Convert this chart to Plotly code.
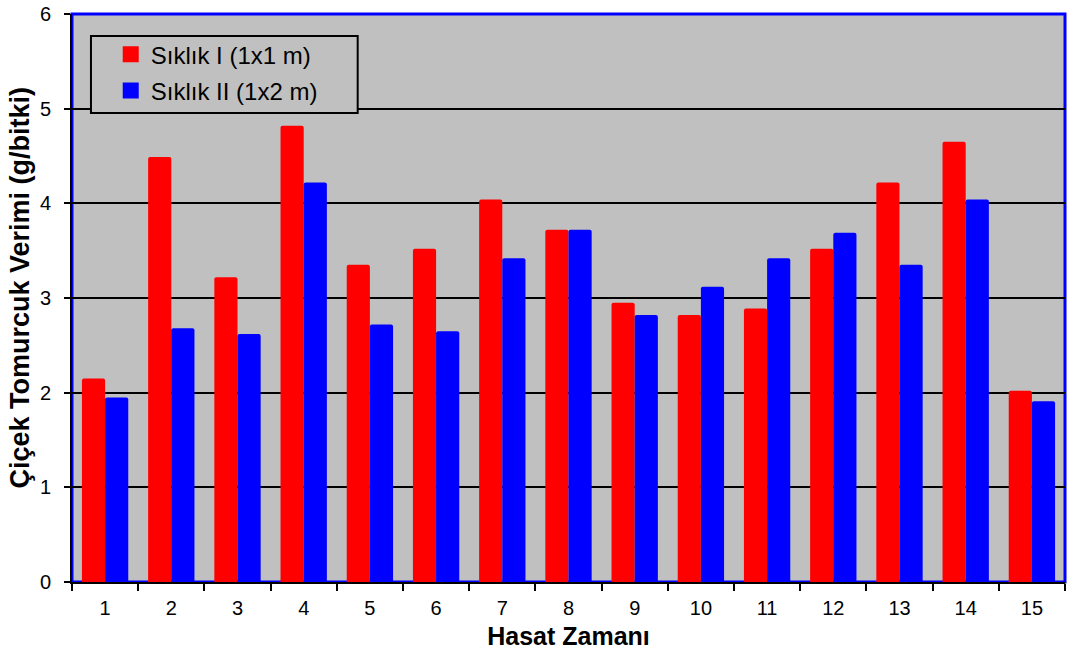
import plotly.graph_objects as go

categories = [str(i) for i in range(1, 16)]
siklik_1 = [2.15, 4.49, 3.22, 4.82, 3.35, 3.52, 4.04, 3.72, 2.95, 2.82, 2.89, 3.52, 4.22, 4.65, 2.02]
siklik_2 = [1.95, 2.68, 2.62, 4.22, 2.72, 2.65, 3.42, 3.72, 2.82, 3.12, 3.42, 3.69, 3.35, 4.04, 1.91]
series_names = ["Sıklık I (1x1 m)", "Sıklık II (1x2 m)"]
series_colors = ["#FF0000", "#0000FF"]
y_ticks = [0, 1, 2, 3, 4, 5, 6]

FONT = "Liberation Sans, Arial, sans-serif"

fig = go.Figure()
for name, vals, col in zip(series_names, [siklik_1, siklik_2], series_colors):
    fig.add_trace(go.Bar(x=categories, y=vals, name=name, showlegend=False,
                         marker=dict(color=col, line=dict(width=0), cornerradius=2)))
# legend entries (square swatches)
for i, (name, col) in enumerate(zip(series_names, series_colors)):
    fig.add_trace(go.Scatter(x=[None], y=[None], mode="markers", name=name,
                             legendgroup=f"g{i}",
                             marker=dict(symbol="square", size=16, color=col)))

fig.update_layout(
    width=1067, height=650,
    margin=dict(l=72, r=2, t=14, b=68, autoexpand=False),
    paper_bgcolor="white",
    plot_bgcolor="#C0C0C0",
    barmode="group",
    bargap=0.3,
    bargroupgap=0,
    font=dict(family=FONT, color="black"),
    showlegend=True,
    legend=dict(
        x=0.039, y=0.968, xanchor="left", yanchor="top",
        bgcolor="rgba(0,0,0,0)", borderwidth=0,
        font=dict(size=24, family=FONT, color="black"),
        itemwidth=30, tracegroupgap=2,
    ),
    shapes=[
        dict(type="rect", xref="paper", yref="paper", x0=0, x1=1, y0=0, y1=1,
             line=dict(color="#0000FF", width=3), layer="below"),
        dict(type="rect", xref="paper", yref="paper", x0=0.0191, x1=0.2877, y0=0.8257, y1=0.9613,
             line=dict(color="black", width=2), fillcolor="#C0C0C0", layer="above"),
    ],
    annotations=[
        dict(text="<b>Çiçek Tomurcuk Verimi (g/bitki)</b>", xref="paper", yref="paper",
             x=-0.052, y=0.519, xanchor="center", yanchor="middle", textangle=-90,
             showarrow=False, font=dict(size=27, family=FONT, color="black")),
    ],
)

fig.update_xaxes(
    type="category",
    automargin=False,
    tickson="boundaries",
    ticks="outside", ticklen=7, tickwidth=2, tickcolor="black",
    showline=True, linecolor="black", linewidth=2,
    showgrid=False,
    tickfont=dict(size=20, family=FONT, color="black"),
    ticklabelstandoff=7,
    title=dict(text="<b>Hasat Zamanı</b>", font=dict(size=25, family=FONT, color="black"), standoff=12),
)
fig.update_yaxes(
    range=[0, 6],
    automargin=False,
    tickvals=y_ticks,
    ticks="outside", ticklen=6, tickwidth=2, tickcolor="black",
    showline=True, linecolor="black", linewidth=2,
    showgrid=True, gridcolor="black", gridwidth=2,
    zeroline=False,
    ticklabeloverflow="allow",
    tickfont=dict(size=20, family=FONT, color="black"),
    ticklabelstandoff=9,
)

fig.write_html("out.html", config={"displayModeBar": False},
               post_script="document.body.style.margin='0px';")
